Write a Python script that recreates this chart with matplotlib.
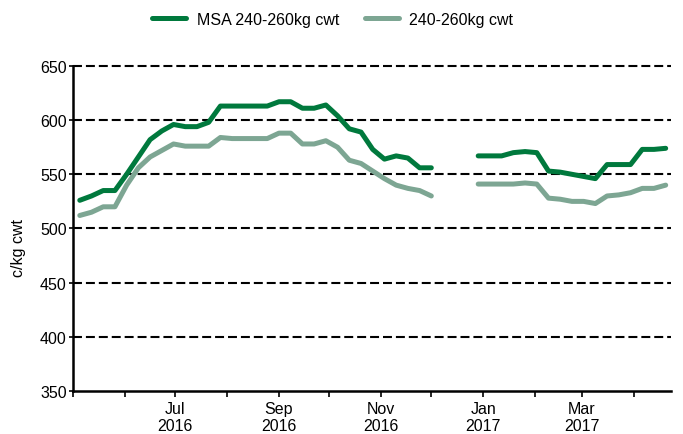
import matplotlib
matplotlib.use("Agg")
import matplotlib.pyplot as plt
import matplotlib.dates as mdates
import numpy as np
import pandas as pd

plt.rcParams['font.family'] = ['Liberation Sans', 'DejaVu Sans']

# weekly sale dates, no sales for three weeks over xmas
weeks = pd.date_range("2016-05-05", periods=51, freq="7D")

msa = [526, 530, 535, 535, 550, 566, 582, 590, 596, 594, 594, 598, 613, 613, 613, 613,
       613, 617, 617, 611, 611, 614, 604, 592, 589, 573, 564, 567, 565, 556, 556,
       np.nan, np.nan, np.nan,
       567, 567, 567, 570, 571, 570, 553, 552, 550, 548, 546, 559, 559, 559, 573, 573, 574]

std = [512, 515, 520, 520, 540, 556, 566, 572, 578, 576, 576, 576, 584, 583, 583, 583,
       583, 588, 588, 578, 578, 581, 575, 563, 560, 553, 546, 540, 537, 535, 530,
       np.nan, np.nan, np.nan,
       541, 541, 541, 541, 542, 541, 528, 527, 525, 525, 523, 530, 531, 533, 537, 537, 540]

labels = ["MSA 240-260kg cwt", "240-260kg cwt"]
colours = ["#00793D", "#7DA693"]

fig = plt.figure(figsize=(6.83, 4.35), dpi=100)
ax = fig.add_axes([0.107, 0.099, 0.875, 0.747])

for yv in range(400, 651, 50):
    ax.axhline(yv, color="black", lw=1.5, dashes=(4.3, 1.9), zorder=1, clip_on=False)

ax.plot(weeks, msa, color=colours[0], lw=3.6, label=labels[0], zorder=3,
        solid_joinstyle="round", solid_capstyle="round")
ax.plot(weeks, std, color=colours[1], lw=3.6, label=labels[1], zorder=2,
        solid_joinstyle="round", solid_capstyle="round")

ax.set_ylim(350, 650)
ax.set_yticks(range(350, 651, 50))
ax.set_xlim(pd.Timestamp("2016-05-01"), pd.Timestamp("2017-04-23"))

ax.xaxis.set_major_locator(mdates.MonthLocator(bymonth=(1, 3, 7, 9, 11)))
ax.xaxis.set_major_formatter(mdates.DateFormatter("%b\n%Y"))
ax.xaxis.set_minor_locator(mdates.MonthLocator())

ax.tick_params(axis="x", which="both", direction="out", length=4, width=1.2, pad=3,
               labelsize=11.5)
ax.tick_params(axis="y", direction="out", length=3, width=1.2, pad=1.5, labelsize=11.5)
for t in ax.get_xticklabels():
    t.set_horizontalalignment("center")

for s in ["top", "right"]:
    ax.spines[s].set_visible(False)
for s in ["left", "bottom"]:
    ax.spines[s].set_linewidth(1.8)
    ax.spines[s].set_zorder(4)

ax.set_ylabel("c/kg cwt", fontsize=11.5)
ax.yaxis.set_label_coords(-0.078, 0.443)

fig.legend(loc="center", bbox_to_anchor=(0.487, 0.954), ncol=2, frameon=False,
           fontsize=11.5, handlelength=2.16, handletextpad=0.65, columnspacing=1.6)

fig.savefig("out.png", dpi=100)
